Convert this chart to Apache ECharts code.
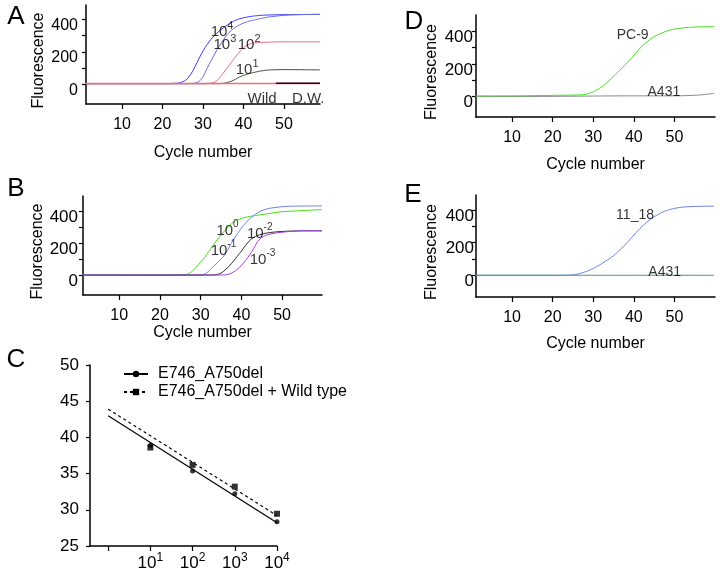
<!DOCTYPE html>
<html><head><meta charset="utf-8">
<script src="https://cdn.jsdelivr.net/npm/echarts@6/dist/echarts.min.js"></script>
<style>html,body{margin:0;padding:0;background:#fff}#c{width:720px;height:572px}</style>
</head><body><div id="c"></div>
<script>
// ---------- tick labels ----------
const CYCLE_TICKS = [10, 20, 30, 40, 50];
const FL_TICKS = [0, 100, 200, 300, 400];
const FL_LABELS = [0, 200, 400];
const LOG_TICKS = [0, 1, 2, 3, 4];
const LOG_LABELS = [1, 2, 3, 4];

// ---------- Panel A: [cycle, fluorescence] ----------
const A_1e4 = [[1,3],[10,3],[20,3],[22,4],[23,5],[24,7],[25,15],[26,30],[27,62],[28,107],[29,158],[30,205],[31,245],[32,278],[33,305],[34,328],[35,348],[36,366],[37,382],[38,395],[39,404],[40,411],[41,416],[42,420],[43,423],[44,425],[45,427],[47,429],[50,430],[55,431],[58.9,432]];
const A_1e3 = [[1,3],[10,3],[20,3],[26,3],[27,4],[28,6],[29,16],[30,45],[31,97],[32,145],[33,192],[34,235],[35,272],[36,308],[37,333],[38,352],[39,367],[40,378],[41,387],[42,393],[43,399],[44,405],[45,410],[46,415],[48,421],[50,426],[52,429],[55,431],[58.9,432]];
const A_1e2 = [[1,3],[10,3],[20,3],[30,3],[31,4],[32,6],[33,14],[34,35],[35,68],[36,100],[37,135],[38,168],[39,198],[40,225],[41,243],[42,252],[43,256],[44,258],[46,260],[50,262],[58.9,262]];
const A_1e1 = [[1,3],[10,3],[20,3],[34,3],[35,5],[36,10],[37,18],[38,30],[39,44],[40,54],[41,62],[42,69],[43,75],[44,80],[45,84],[46,87],[48,89],[50,90],[55,89],[58.9,88]];
const A_wild = [[1,4],[20,4],[40,4],[58.9,4]];
const A_dw = [[48,5],[58.9,5]];
const A_noteText = [['10','4'],['10','3'],['10','2'],['10','1'],['Wild',''],['D.W.','']];
const A_notePos = [[34.7,333],[35.4,253],[41.4,253],[40.9,99],[44.6,-80],[56,-80]];

// ---------- Panel B ----------
const B_1e0 = [[1,0],[10,0],[20,0],[25,1],[26,2],[27,8],[28,25],[29,52],[30,82],[31,112],[32,148],[33,184],[34,219],[35,250],[36,280],[37,307],[38,330],[39,345],[40,355],[41,362],[42,367],[43,371],[44,375],[46,382],[48,390],[50,397],[53,401],[56,405],[59.8,410]];
const B_1em1 = [[1,0],[10,0],[20,0],[29,0],[30,1],[31,6],[32,25],[33,50],[34,75],[35,100],[36,130],[37,175],[38,219],[39,258],[40,294],[41,325],[42,352],[43,372],[44,390],[45,403],[46,412],[47,418],[48,422],[50,428],[52,431],[59.8,433]];
const B_1em2 = [[1,0],[10,0],[20,0],[33,0],[34,3],[35,12],[36,32],[37,56],[38,85],[39,118],[40,150],[41,185],[42,215],[43,236],[44,248],[45,256],[46,262],[47,266],[48,269],[50,273],[53,276],[59.8,277]];
const B_1em3 = [[1,0],[10,0],[20,0],[35,0],[36,1],[37,6],[38,18],[39,36],[40,60],[41,90],[42,125],[43,165],[44,210],[45,235],[46,248],[47,256],[48,262],[50,268],[52,273],[55,277],[59.8,277]];
const B_noteText = [['10','0'],['10','-1'],['10','-2'],['10','-3']];
const B_notePos = [[36.6,287],[35.6,162],[44.5,269],[45.2,109]];

// ---------- Panel C: log10(copies) vs Ct ----------
const C_logCopies = [1, 2, 3, 4];
const C_delCt = [38.9, 35.35, 32.2, 28.35];
const C_mixCt = [38.6, 36.2, 33.2, 29.45];
const C_delFit = [[0,43.0],[4,28.2]];
const C_mixFit = [[0,43.9],[4,29.2]];
const C_names = ['E746_A750del', 'E746_A750del + Wild type'];

// ---------- Panel D ----------
const D_pc9 = [[1,5],[10,5],[20,8],[26,10],[27,11],[28,13],[29,20],[30,30],[31,43],[32,58],[33,78],[34,100],[35,124],[36,148],[37,173],[38,198],[39,224],[40,253],[41,280],[42,308],[43,330],[44,350],[45,366],[46,378],[47,389],[48,399],[49,406],[50,412],[52,419],[55,425],[59.8,427]];
const D_a431 = [[1,0],[20,2],[40,5],[50,5],[56,10],[59.8,20]];
const D_noteText = [['PC-9',''],['A431','']];
const D_notePos = [[39.7,388],[47.4,41]];

// ---------- Panel E ----------
const E_1118 = [[1,0],[10,0],[20,0],[24,0],[25,2],[26,6],[27,13],[28,21],[29,30],[30,42],[31,55],[32,70],[33,86],[34,101],[35,120],[36,142],[37,166],[38,190],[39,218],[40,246],[41,273],[42,298],[43,320],[44,340],[45,357],[46,372],[47,385],[48,395],[49,403],[50,409],[52,417],[55,421],[59.8,423]];
const E_a431 = [[1,0],[20,0],[40,0],[59.8,0]];
const E_noteText = [['11_18',''],['A431','']];
const E_notePos = [[40.3,380],[47.6,31]];

const FONT = '"Liberation Sans", Arial, Helvetica, sans-serif';
const BLACK = '#000';

function xCycle(g, min, max, nameGap) {
  return {
    type: 'value', gridIndex: g, min, max,
    axisLine: {show: true, onZero: false, lineStyle: {color: BLACK, width: 1.5}},
    axisTick: {show: true, length: 5, customValues: CYCLE_TICKS, lineStyle: {color: BLACK, width: 1.2}},
    axisLabel: {show: true, customValues: CYCLE_TICKS, margin: 13, fontSize: 16, color: BLACK, fontFamily: FONT},
    splitLine: {show: false},
    name: 'Cycle number', nameLocation: 'middle', nameGap,
    nameTextStyle: {fontSize: 16, color: BLACK, fontFamily: FONT}
  };
}
function yFl(g, min, max, labelSize, margin, nameGap) {
  return {
    type: 'value', gridIndex: g, min, max,
    axisLine: {show: true, onZero: false, lineStyle: {color: BLACK, width: 1.5}},
    axisTick: {show: true, length: 4, customValues: FL_TICKS, lineStyle: {color: BLACK, width: 1.2}},
    axisLabel: {show: true, customValues: FL_LABELS, margin, fontSize: labelSize, color: BLACK, fontFamily: FONT, verticalAlign: 'top', lineHeight: 12},
    splitLine: {show: false},
    name: 'Fluorescence', nameLocation: 'middle', nameGap, nameRotate: 90,
    nameTextStyle: {fontSize: 16, color: BLACK, fontFamily: FONT, padding: [0, 12, 0, 0]}
  };
}
function curve(g, name, data, color, width) {
  return {
    type: 'line', name, xAxisIndex: g, yAxisIndex: g, data,
    symbol: 'none', showSymbol: false, smooth: 0.3,
    lineStyle: {color, width: width || 1}, itemStyle: {color}, silent: true
  };
}
function notes(g, texts, pos, size, supSize) {
  return {
    type: 'scatter', xAxisIndex: g, yAxisIndex: g, symbolSize: 1, silent: true, z: 10,
    itemStyle: {color: 'rgba(0,0,0,0)'},
    data: texts.map((t, i) => ({value: pos[i], t})),
    label: {
      show: true, position: 'inside', color: BLACK,
      formatter: p => p.data.t[1] !== '' ? '{b|' + p.data.t[0] + '}{s|' + p.data.t[1] + '}' : '{b|' + p.data.t[0] + '}',
      rich: {
        b: {fontSize: size, fontFamily: FONT, color: BLACK, lineHeight: size + 4, verticalAlign: 'bottom'},
        s: {fontSize: supSize, fontFamily: FONT, color: BLACK, lineHeight: supSize + 2, verticalAlign: 'top'}
      }
    }
  };
}

const chart = echarts.init(document.getElementById('c'), null, {renderer: 'canvas'});
chart.setOption({
  animation: false,
  backgroundColor: '#fff',
  textStyle: {fontFamily: FONT},
  grid: [
    {left: 86, top: 5, width: 234, height: 99},
    {left: 83, top: 196, width: 239, height: 99},
    {left: 90, top: 365, width: 187, height: 181},
    {left: 476, top: 15, width: 239, height: 102},
    {left: 476, top: 195, width: 239, height: 102}
  ],
  xAxis: [
    xCycle(0, 1.1, 58.9, 41),
    xCycle(1, 1.1, 59.8, 29),
    {
      type: 'value', gridIndex: 2, min: -0.43, max: 4,
      axisLine: {show: true, onZero: false, lineStyle: {color: BLACK, width: 1.5}},
      axisTick: {show: true, length: 5, customValues: LOG_TICKS, lineStyle: {color: BLACK, width: 1.2}},
      axisLabel: {
        show: true, customValues: LOG_LABELS, margin: 6, color: BLACK,
        formatter: v => '{b|10}{s|' + v + '}',
        rich: {
          b: {fontSize: 17, fontFamily: FONT, color: BLACK, lineHeight: 20, verticalAlign: 'bottom'},
          s: {fontSize: 12, fontFamily: FONT, color: BLACK, lineHeight: 13, verticalAlign: 'top'}
        }
      },
      splitLine: {show: false}
    },
    xCycle(3, 1.1, 60, 40),
    xCycle(4, 1.1, 60, 39)
  ],
  yAxis: [
    yFl(0, -123, 490, 16, 8, 39),
    yFl(1, -125, 495, 17, 5, 36),
    {
      type: 'value', gridIndex: 2, min: 25, max: 50, interval: 5,
      axisLine: {show: true, onZero: false, lineStyle: {color: BLACK, width: 1.5}},
      axisTick: {show: true, length: 4, lineStyle: {color: BLACK, width: 1.2}},
      axisLabel: {margin: 11, fontSize: 17, color: BLACK, fontFamily: FONT},
      splitLine: {show: false}
    },
    yFl(3, -124, 498, 17, 3, 36),
    yFl(4, -133, 491, 17, 2, 36)
  ],
  legend: {
    data: C_names, orient: 'vertical', left: 123, top: 366, padding: 0,
    itemWidth: 24, itemHeight: 8, itemGap: 2, selectedMode: false,
    textStyle: {fontSize: 16, color: BLACK, fontFamily: FONT, padding: [0, 0, 0, 5]}
  },
  graphic: [
    {type: 'text', style: {text: 'A', x: 16, y: 17, fontSize: 26, fontFamily: FONT, fill: BLACK, align: 'center', verticalAlign: 'middle'}},
    {type: 'text', style: {text: 'B', x: 16, y: 189, fontSize: 26, fontFamily: FONT, fill: BLACK, align: 'center', verticalAlign: 'middle'}},
    {type: 'text', style: {text: 'C', x: 16, y: 360, fontSize: 26, fontFamily: FONT, fill: BLACK, align: 'center', verticalAlign: 'middle'}},
    {type: 'text', style: {text: 'D', x: 414, y: 22, fontSize: 26, fontFamily: FONT, fill: BLACK, align: 'center', verticalAlign: 'middle'}},
    {type: 'text', style: {text: 'E', x: 413, y: 195, fontSize: 26, fontFamily: FONT, fill: BLACK, align: 'center', verticalAlign: 'middle'}}
  ],
  series: [
    // A
    curve(0, 'A 10^4', A_1e4, '#3a3aff'),
    curve(0, 'A 10^3', A_1e3, '#6a6ae0'),
    curve(0, 'A 10^2', A_1e2, '#e0708a'),
    curve(0, 'A 10^1', A_1e1, '#3f553f'),
    curve(0, 'A Wild', A_wild, '#f07070', 1.5),
    curve(0, 'A D.W.', A_dw, '#300010', 1.5),
    notes(0, A_noteText, A_notePos, 15, 11),
    // B
    curve(1, 'B 10^0', B_1e0, '#40e010'),
    curve(1, 'B 10^-1', B_1em1, '#7080f0'),
    curve(1, 'B 10^-2', B_1em2, '#303030'),
    curve(1, 'B 10^-3', B_1em3, '#a040e0'),
    notes(1, B_noteText, B_notePos, 15, 10),
    // C
    {
      type: 'line', name: C_names[0], xAxisIndex: 2, yAxisIndex: 2, data: C_delFit,
      symbol: 'circle', symbolSize: 6, showSymbol: false,
      lineStyle: {color: BLACK, width: 1.2}, itemStyle: {color: BLACK}, silent: true
    },
    {
      type: 'line', name: C_names[1], xAxisIndex: 2, yAxisIndex: 2, data: C_mixFit,
      symbol: 'rect', symbolSize: 6, showSymbol: false,
      lineStyle: {color: BLACK, width: 1.2, type: [3, 3]}, itemStyle: {color: BLACK}, silent: true
    },
    {
      type: 'scatter', name: 'del points', xAxisIndex: 2, yAxisIndex: 2,
      data: C_logCopies.map((x, i) => [x, C_delCt[i]]),
      symbol: 'circle', symbolSize: 5, itemStyle: {color: BLACK}, silent: true
    },
    {
      type: 'scatter', name: 'mix points', xAxisIndex: 2, yAxisIndex: 2,
      data: C_logCopies.map((x, i) => [x, C_mixCt[i]]),
      symbol: 'rect', symbolSize: 6, itemStyle: {color: BLACK}, silent: true
    },
    // D
    curve(3, 'D A431', D_a431, '#8a8a8a'),
    curve(3, 'D PC-9', D_pc9, '#40e020'),
    notes(3, D_noteText, D_notePos, 14, 10),
    // E
    curve(4, 'E 11_18', E_1118, '#6f80e8'),
    curve(4, 'E A431', E_a431, '#4a9a80'),
    notes(4, E_noteText, E_notePos, 14, 10)
  ]
});
</script>
</body></html>
